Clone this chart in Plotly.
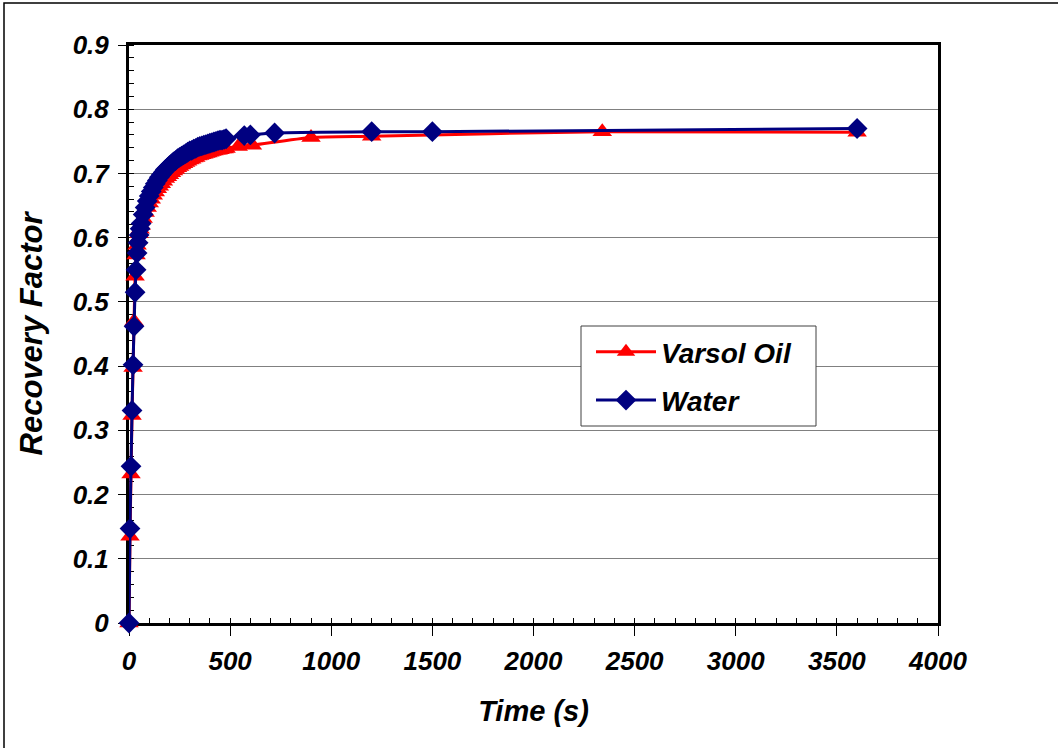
import plotly.graph_objects as go

# ---- data ----
time_water = [0, 5, 10, 15, 20, 25, 30, 35, 40, 45, 50, 55, 60, 70, 80, 90, 100, 110, 120, 130,
              140, 150, 160, 170, 180, 190, 200, 210, 220, 230, 240, 250, 260, 270, 280, 290,
              300, 310, 320, 330, 340, 350, 360, 370, 380, 390, 400, 410, 420, 430, 440, 450,
              460, 470, 480, 570, 600, 720, 1200, 1500, 3600]
rf_water = [0.0, 0.147, 0.244, 0.331, 0.402, 0.462, 0.515, 0.550, 0.576, 0.592, 0.604, 0.614,
            0.622, 0.636, 0.647, 0.657, 0.665, 0.672, 0.678, 0.684, 0.689, 0.694, 0.698, 0.702,
            0.706, 0.709, 0.712, 0.715, 0.718, 0.720, 0.723, 0.725, 0.727, 0.729, 0.731, 0.733,
            0.735, 0.736, 0.738, 0.739, 0.741, 0.742, 0.743, 0.744, 0.745, 0.746, 0.747, 0.748,
            0.749, 0.750, 0.751, 0.752, 0.752, 0.753, 0.754, 0.759, 0.760, 0.763, 0.765, 0.765,
            0.770]

time_varsol = [0, 5, 10, 15, 20, 25, 30, 35, 40, 45, 50, 55, 60, 70, 80, 90, 100, 110, 120, 130,
               140, 150, 160, 170, 180, 190, 200, 210, 220, 230, 240, 250, 260, 270, 280, 290,
               300, 310, 320, 330, 340, 350, 360, 370, 380, 390, 400, 410, 420, 430, 440, 450,
               460, 470, 480, 540, 610, 900, 1200, 2340, 3600]
rf_varsol = [0.0, 0.135, 0.232, 0.323, 0.398, 0.470, 0.540, 0.573, 0.588, 0.598, 0.606, 0.613,
             0.619, 0.630, 0.639, 0.647, 0.654, 0.660, 0.666, 0.671, 0.676, 0.680, 0.684, 0.688,
             0.692, 0.695, 0.698, 0.701, 0.704, 0.706, 0.709, 0.711, 0.713, 0.715, 0.717, 0.719,
             0.721, 0.722, 0.724, 0.725, 0.727, 0.728, 0.729, 0.730, 0.731, 0.732, 0.733, 0.734,
             0.735, 0.736, 0.736, 0.737, 0.738, 0.738, 0.739, 0.742, 0.744, 0.756, 0.758, 0.765,
             0.764]

series_names = ["Varsol Oil", "Water"]
x_ticks = [0, 500, 1000, 1500, 2000, 2500, 3000, 3500, 4000]
y_ticks = [0, 0.1, 0.2, 0.3, 0.4, 0.5, 0.6, 0.7, 0.8, 0.9]
y_tick_text = ["0", "0.1", "0.2", "0.3", "0.4", "0.5", "0.6", "0.7", "0.8", "0.9"]

FONT = "Liberation Sans, Arial, sans-serif"

fig = go.Figure()
fig.add_trace(go.Scatter(
    x=time_varsol, y=rf_varsol, name=series_names[0], mode="lines+markers",
    line=dict(color="#FF0000", width=3, shape="spline", smoothing=0.6),
    marker=dict(symbol="triangle-up", size=17, color="#FF0000"),
    cliponaxis=False, legendgroup="a"))
fig.add_trace(go.Scatter(
    x=time_water, y=rf_water, name=series_names[1], mode="lines+markers",
    line=dict(color="#000080", width=3, shape="spline", smoothing=0.6),
    marker=dict(symbol="diamond", size=16, color="#000080"),
    cliponaxis=False, legendgroup="b"))

L, R, T, B = 129, 120, 45, 125
W, H = 1058, 748
pw, ph = W - L - R, H - T - B

def px_x(p):
    return (p - L) / pw

def px_y(p):
    return (H - B - p) / ph

fig.update_layout(
    width=W, height=H,
    margin=dict(l=L, r=R, t=T, b=B, pad=0),
    paper_bgcolor="white", plot_bgcolor="white",
    showlegend=True,
    legend=dict(x=px_x(591), y=px_y(327), xanchor="left", yanchor="top",
                bgcolor="rgba(0,0,0,0)", borderwidth=0,
                font=dict(family=FONT, size=28, color="black", weight="bold", style="italic"),
                traceorder="grouped", tracegroupgap=9, itemwidth=60),
    shapes=[
        # outer chart frame
        dict(type="rect", xref="paper", yref="paper",
             x0=px_x(4), y0=px_y(760), x1=px_x(1070), y1=px_y(3),
             line=dict(color="black", width=1.5), layer="below"),
        # legend box
        dict(type="rect", xref="paper", yref="paper",
             x0=px_x(581), y0=px_y(426), x1=px_x(816), y1=px_y(326),
             line=dict(color="#404040", width=1), fillcolor="white", layer="above"),
    ],
)

fig.update_xaxes(
    range=[0, 4000], tickvals=x_ticks, ticktext=[str(v) for v in x_ticks],
    showgrid=False, zeroline=False,
    showline=True, linecolor="black", linewidth=3, mirror=True,
    ticks="outside", ticklen=10, tickwidth=1, tickcolor="black",
    minor=dict(ticks="inside", ticklen=5, tickwidth=1, tickcolor="black", dtick=100, showgrid=False),
    tickfont=dict(family=FONT, size=26, color="black", weight="bold", style="italic"),
    ticklabelstandoff=3,
    title=dict(text="Time (s)", standoff=26,
               font=dict(family=FONT, size=29, color="black", weight="bold", style="italic")),
    layer="below traces",
)
fig.update_yaxes(
    range=[0, 0.9], tickvals=y_ticks, ticktext=y_tick_text,
    showgrid=True, gridcolor="#808080", gridwidth=1, zeroline=False,
    showline=True, linecolor="black", linewidth=3, mirror=True,
    ticks="outside", ticklen=8, tickwidth=1, tickcolor="black",
    minor=dict(ticks="inside", ticklen=5, tickwidth=1, tickcolor="black", dtick=0.02, showgrid=False),
    tickfont=dict(family=FONT, size=26, color="black", weight="bold", style="italic"),
    ticklabelstandoff=4,
    title=dict(text="Recovery Factor", standoff=21,
               font=dict(family=FONT, size=31, color="black", weight="bold", style="italic")),
    layer="below traces",
)

fig.write_html("out.html")
